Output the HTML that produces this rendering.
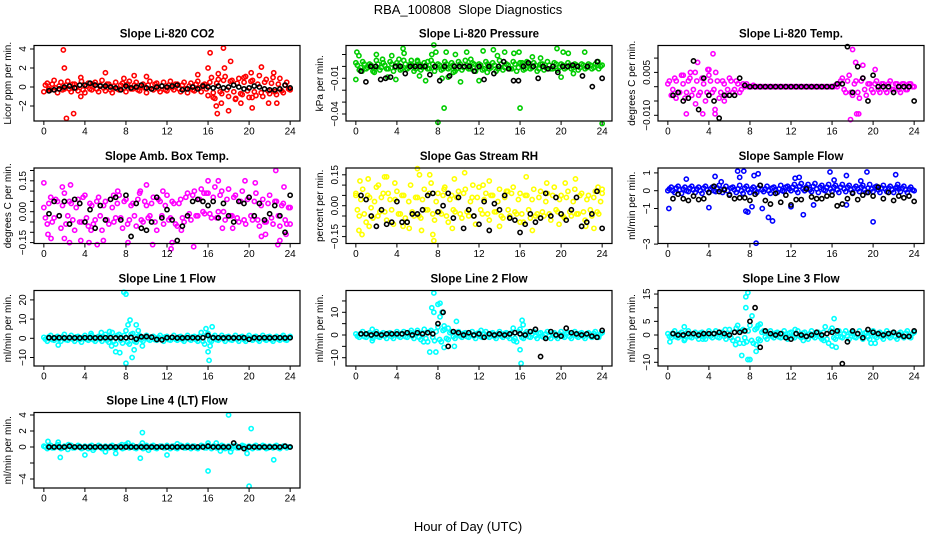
<!DOCTYPE html>
<html><head><meta charset="utf-8"><style>
html,body{margin:0;padding:0;background:#fff;}
svg{display:block;font-family:"Liberation Sans",sans-serif;}
</style></head><body>
<svg id="chart" width="936" height="540" viewBox="0 0 936 540" xmlns="http://www.w3.org/2000/svg">
<rect width="936" height="540" fill="#fff"/>
<text x="468" y="14" text-anchor="middle" font-size="13" xml:space="preserve">RBA_100808  Slope Diagnostics</text>
<text x="468" y="531" text-anchor="middle" font-size="13">Hour of Day (UTC)</text>
<g id="panels"></g>
</svg>
<script>
// ---- data ----
const xTicks = [0,4,8,12,16,20,24];

const co2Band = [-0.5,0.4,-0.3,0.7,-0.6,0.5,-0.2,0.6,-0.5,0.3,-0.4,0.6,-0.6,0.4,-0.3,0.5,-0.5,0.7,-0.4,0.3,-0.6,0.5,-0.3,0.4,-0.5,0.6,-0.2,0.5,-0.4,0.3,-0.6,0.6,-0.3,0.4,-0.5,0.5,-0.4,0.6,-0.3,0.3,-0.5,0.5,-0.6,0.4,-0.4,0.6,-0.5,0.3,-0.9,1.0,-1.2,0.8,-0.7,1.1,-1.0,0.7,-1.3,0.9,-0.8,1.1,-1.1,0.7,-0.9,1.2,-1.0,0.8,-0.7,1.0,-0.8,0.9,-0.6,0.5,-0.3];
const co2BandB = [0.2,-0.2,0.3,-0.1,0.1,-0.3,0.2,-0.2,0.3,-0.1,0.2,-0.3,0.1,-0.2,0.3,-0.2,0.2,-0.1,0.3,-0.3,0.1,-0.2,0.2,-0.1,0.3,-0.2,0.2,-0.3,0.1,-0.1,0.2,-0.2,0.3,-0.2,0.1,-0.3,0.2,-0.1,0.3,-0.2,0.2,-0.2,0.1,-0.3,0.3,-0.1,0.2,-0.2,0.5,-0.6,0.4,-0.5,0.7,-0.3,0.6,-0.5,0.4,-0.7,0.5,-0.4,0.6,-0.5,0.3,-0.6,0.5,-0.4,0.4,-0.5,0.3,-0.4,0.2,-0.2];
const co2OutX = [1.9,2.0,2.2,2.9,3.6,6.0,8.8,10,15,16,16.2,16.8,16.9,17.5,17.3,17.6,18.2,18,19.2,20.2,20.3,20.3,21.2,22.4,22.7,21.9,17,16.5,18.7,19.5,3.6,7.8];
const co2OutY = [3.9,2.0,-3.3,-2.8,-1.0,1.5,1.2,1.1,1.3,2.0,3.6,-2.0,-2.8,4.1,-1.7,2.0,2.7,-2.5,-1.7,1.5,-2.2,-1.1,2.1,1.5,-1.7,-1.7,1.4,-1.1,-1.2,1.0,1.0,0.9];
const co2Black = [-0.4,-0.3,-0.2,0,0.1,-0.1,0.2,0.2,0.4,0.2,0.1,0.1,0,-0.1,-0.3,0.1,-0.1,0,0.2,-0.1,-0.2,0,0.1,0,0.1,0.2,-0.3,-0.2,0,-0.2,0.1,0,-0.1,0.1,-0.1,0,0.2,0,-0.2,-0.1,0.1,0,-0.2,-0.3,-0.3,-0.2,0.2,-0.1];

const presBand = [0.003,-0.003,0.004,-0.002,0.002,-0.004,0.005,-0.003,0.003,-0.002,0.004,-0.004,0.003,-0.003,0.005,-0.002,0.002,-0.004,0.004,-0.003,0.003,-0.002,0.005,-0.004,0.002,-0.003,0.004,-0.002,0.003,-0.004,0.004,-0.003,0.005,-0.002,0.003,-0.004,0.002,-0.003,0.004,-0.002,0.003,-0.004,0.005,-0.003,0.002,-0.002,0.004,-0.004,0.003,-0.003,0.004,-0.002,0.003,-0.004,0.002,-0.003,0.004,-0.002,0.003,-0.003,0.002,-0.002,0.003,-0.002,0.002,-0.003,0.002,-0.002,0.002,-0.002,0.002,-0.002,0.001];
const presBandB = [0.001,-0.001,0.002,-0.001,0.001,-0.002,0.002,-0.001,0.001,-0.002,0.002,-0.001,0.001,-0.002,0.002,-0.001,0.001,-0.002,0.002,-0.001,0.001,-0.002,0.002,-0.001,0.001,-0.002,0.002,-0.001,0.001,-0.002,0.002,-0.001,0.001,-0.002,0.002,-0.001,0.001,-0.002,0.002,-0.001,0.001,-0.002,0.002,-0.001,0.001,-0.002,0.002,-0.001,0.001,-0.002,0.002,-0.001,0.001,-0.002,0.002,-0.001,0.001,-0.002,0.002,-0.001,0.001,-0.001,0.001,-0.001,0.001,-0.001,0.001,-0.001,0.001,-0.001,0.001,0];
const presOutX = [0.1,0.3,0.6,0,1.8,2.6,3.1,3.5,3.9,4.2,4.6,4.7,5.4,6.0,6.2,6.8,7.0,7.6,7.4,7.8,8.0,8.6,8.4,8.8,9.0,9.5,10.2,10.8,11.2,12.0,12.4,12.8,13.4,13.8,14.5,15.4,15.9,16.0,16.2,17.2,18.0,19.6,20.0,20.2,20.7,21.2,22.3,24,23.6,2.0,9.7,11.0];
const presOutY = [0.012,0.009,-0.004,-0.011,-0.005,0.006,-0.009,0.009,-0.011,0.006,0.015,0.011,0.005,0.005,-0.008,-0.012,0.004,0.018,0.010,0.012,-0.047,-0.035,-0.010,0.012,-0.009,-0.005,-0.013,0.012,0.006,-0.012,0.013,-0.005,0.014,0.009,0.012,0.011,0.012,-0.035,0.003,0.008,0.007,0.015,-0.009,0.012,0.011,-0.006,0.012,-0.048,0.004,0.010,0.010,-0.002];
const presBlack = [-0.004,-0.013,0,0,-0.011,-0.010,-0.009,0,0,-0.006,0,0,0,0,-0.007,0,-0.012,0,-0.008,0,0,0,0,-0.004,0,-0.011,0,-0.006,0,0.004,-0.002,-0.012,-0.012,0,0.003,0,-0.010,0,-0.002,0,-0.005,0,0,0.001,0,-0.008,0,-0.017,0.004,-0.010];

const tempBand = [0.001,-0.003,0.003,-0.002,0.004,-0.004,0.002,-0.003,0.005,-0.003,0.003,-0.005,0.004,-0.002,0.005,-0.004,0.002,-0.003,0.003,-0.002,0.002,-0.002,0.001,0.001,0,0.0005,0,0,0,0,0,0,0,0,0,0,0,0,0,0,0,0,0,0,0,0,0,0,0,0.0005,0.001,0.003,-0.002,0.004,-0.003,0.002,-0.004,0.003,-0.003,0.001,-0.002,0.002,-0.002,0.001,-0.002,0.002,-0.001,0.001,-0.002,0.001,-0.001,0.001,0];
const tempBandB = [0.002,-0.001,0.002,-0.002,0.001,-0.002,0.003,-0.001,0.002,-0.002,0.001,-0.002,0.002,-0.001,0.002,-0.002,0.001,-0.001,0.002,-0.001,0.001,-0.001,0,0,0,0,0,0,0,0,0,0,0,0,0,0,0,0,0,0,0,0,0,0,0,0,0,0,0,0,0.002,-0.001,0.002,-0.002,0.001,-0.002,0.002,-0.001,0.001,-0.001,0.001,-0.001,0.001,-0.001,0.001,-0.001,0.001,-0.001,0.001,-0.001,0.001,0];
const tempOutX = [4.4,2.9,3.9,1.8,3.4,4.6,4.6,18,18.3,19,20.2,17.8,18.4,18.6,2.7,5.5,1.5,2.2,0.8,4.0];
const tempOutY = [0.0115,0.0085,0.006,-0.0095,-0.0095,-0.0095,-0.008,0.013,0.0085,0.0075,0.006,-0.0115,-0.0095,-0.0095,-0.006,-0.005,0.004,0.005,-0.004,0.006];
const tempBlack = [-0.003,-0.002,-0.005,-0.004,0.009,-0.008,0.003,-0.003,-0.005,-0.011,-0.003,-0.003,-0.003,0.003,0.0005,0,0,0,0,0,0,0,0,0,0,0,0,0,0,0,0,0,0.001,0.001,0.014,-0.002,0.007,0.003,-0.005,0.004,0,0,0,-0.002,0,0,0,-0.005];

const ambBand = [0.02,-0.06,0.07,-0.03,0.05,-0.08,0.09,-0.02,0.04,-0.09,0.06,-0.05,0.08,-0.07,0.03,-0.04,0.07,-0.09,0.05,-0.06,0.02,-0.03,0.08,-0.08,0.06,-0.04,0.04,-0.07,0.09,-0.05,0.03,-0.02,0.07,-0.09,0.05,-0.06,0.08,-0.03,0.04,-0.07,0.06,-0.05,0.09,-0.04,0.1,-0.02,0.11,-0.01,0.09,-0.03,0.12,0.0,0.1,-0.04,0.11,-0.02,0.08,-0.05,0.1,-0.06,0.07,-0.04,0.09,-0.07,0.06,-0.05,0.08,-0.06,0.05,-0.07,0.04,-0.06,0.02];
const ambBandB = [-0.03,0.04,-0.05,0.06,-0.02,0.03,-0.06,0.05,-0.04,0.02,-0.05,0.07,-0.03,0.04,-0.06,0.05,-0.02,0.03,-0.04,0.06,-0.05,0.04,-0.03,0.05,-0.06,0.03,-0.02,0.06,-0.04,0.05,-0.03,0.04,-0.05,0.06,-0.02,0.03,-0.04,0.05,-0.06,0.04,-0.03,0.07,-0.01,0.08,-0.02,0.06,0.0,0.09,-0.01,0.07,-0.03,0.08,0.0,0.06,-0.02,0.07,-0.03,0.05,-0.04,0.06,-0.02,0.05,-0.04,0.03,-0.05,0.04,-0.03,0.05,-0.02,0.03,-0.04,0.02];
const ambOutX = [0,0.4,0.7,1.8,2.0,2.6,2.5,3.6,4.4,4.6,5.2,5.8,6.8,7.2,8.2,9.4,10.0,10.6,11.6,12.4,12.5,13.4,14.6,15.6,16.0,17.0,17.4,18.4,19.6,20.6,21.2,21.6,22.6,22.8,23.0,23.4,23.6,24];
const ambOutY = [0.14,-0.11,-0.13,0.12,-0.13,0.13,-0.15,-0.14,-0.15,-0.09,-0.16,-0.14,0.08,0.1,-0.15,0.1,0.13,-0.16,0.1,-0.18,-0.15,-0.09,-0.17,0.09,0.15,0.15,-0.08,-0.08,0.15,0.14,-0.12,-0.11,0.2,-0.16,-0.14,0.12,-0.11,-0.06];
const ambBlack = [-0.01,0.05,-0.02,0.05,-0.06,0.06,0.04,-0.05,0.01,-0.08,0.03,-0.04,0.06,0.07,-0.04,0.08,-0.12,0.04,-0.08,-0.09,-0.05,0.07,-0.03,0.01,-0.04,-0.14,-0.07,-0.02,0.05,0.06,0.05,0.03,0.05,-0.03,0.04,-0.02,-0.05,0.05,0.04,0.07,-0.02,0.04,-0.04,-0.01,0.03,-0.02,-0.10,0.08];

const rhBand = [0.05,-0.05,0.08,-0.08,0.04,-0.06,0.09,-0.03,0.06,-0.07,0.03,-0.09,0.07,-0.04,0.05,-0.08,0.1,-0.05,0.04,-0.06,0.08,-0.02,0.11,-0.07,0.06,-0.04,0.09,-0.08,0.05,-0.03,0.07,-0.06,0.08,-0.05,0.04,-0.09,0.09,-0.04,0.06,-0.07,0.05,-0.03,0.08,-0.06,0.07,-0.05,0.09,-0.04,0.06,-0.08,0.05,-0.06,0.08,-0.04,0.07,-0.05,0.06,-0.07,0.09,-0.03,0.05,-0.06,0.07,-0.05,0.08,-0.04,0.06,-0.07,0.05,-0.05,0.07,-0.04,0.06];
const rhBandB = [-0.02,0.03,-0.04,0.05,-0.01,0.02,-0.05,0.04,-0.03,0.06,-0.02,0.03,-0.04,0.05,-0.06,0.02,-0.03,0.04,-0.05,0.03,-0.02,0.06,-0.04,0.02,-0.03,0.05,-0.05,0.03,-0.02,0.04,-0.04,0.06,-0.03,0.02,-0.05,0.04,-0.02,0.03,-0.04,0.05,-0.03,0.02,-0.05,0.04,-0.02,0.06,-0.03,0.03,-0.04,0.05,-0.02,0.03,-0.05,0.04,-0.03,0.02,-0.04,0.05,-0.02,0.03,-0.05,0.04,-0.03,0.02,-0.04,0.05,-0.03,0.03,-0.02,0.04,-0.03,0.02];
const rhOutX = [0,0.3,0.4,0.6,1.2,1.3,2.2,2.8,3.0,3.8,4.6,5.2,6.0,6.2,6.4,7.2,7.5,7.6,8.6,9.4,9.6,10.6,11.4,12.4,13.0,14.0,14.8,16.0,16.6,17.2,18.6,19.8,20.4,21.4,22.4,23.2,23.6,24];
const rhOutY = [0.06,-0.12,0.12,-0.14,0.13,-0.1,0.1,0.14,0.14,0.11,-0.1,-0.11,0.18,0.15,-0.12,0.15,-0.14,-0.17,0.08,-0.11,0.13,0.16,0.1,0.1,0.12,-0.1,0.07,-0.08,0.14,-0.12,0.11,-0.09,0.11,0.13,-0.1,-0.11,0.09,0.08];
const rhBlack = [0.05,0.03,-0.05,-0.1,-0.02,-0.09,-0.08,0.02,-0.08,-0.08,-0.04,-0.04,-0.02,0.05,0.06,-0.03,0,0.06,-0.06,0.04,-0.11,-0.02,-0.05,-0.09,0.02,-0.12,0.01,-0.02,0.05,-0.06,-0.07,-0.13,-0.09,-0.04,-0.08,-0.06,0.06,-0.05,0.04,-0.04,-0.07,-0.02,0.04,-0.1,-0.08,-0.04,0.07,-0.11];

const flowBand = [0.0,0.2,-0.1,0.25,-0.15,0.2,-0.05,0.25,-0.1,0.2,-0.15,0.25,-0.1,0.2,-0.05,0.3,-0.1,0.25,-0.2,0.2,-0.1,0.3,-0.15,0.25,-0.1,0.2,-0.1,0.3,-0.05,0.25,-0.15,0.2,-0.1,0.3,-0.05,0.25,0.0,0.35,-0.1,0.4,0.0,0.35,-0.05,0.4,-0.1,0.3,0.0,0.35,-0.05,0.3,-0.1,0.35,-0.05,0.3,-0.1,0.25,-0.05,0.3,-0.1,0.35,-0.05,0.25,-0.1,0.3,-0.05,0.25,-0.1,0.2,-0.05,0.25,-0.1,0.2,0.0];
const flowBandB = [0.1,0.0,0.15,0.05,0.1,0.0,0.15,0.05,0.1,0.0,0.15,0.05,0.1,0.0,0.15,0.05,0.1,0.0,0.15,0.05,0.1,0.0,0.15,0.05,0.1,0.0,0.15,0.05,0.1,0.0,0.15,0.05,0.1,0.0,0.2,0.1,0.2,0.05,0.25,0.1,0.2,0.05,0.25,0.1,0.2,0.05,0.2,0.1,0.2,0.05,0.2,0.1,0.2,0.05,0.15,0.1,0.2,0.05,0.15,0.1,0.2,0.05,0.15,0.1,0.15,0.05,0.15,0.1,0.15,0.05,0.1,0.05];
const flowOutX = [0.1,1.8,4.0,4.6,5.2,6.8,7.0,7.4,7.6,7.8,8.2,8.4,8.6,8.8,9.2,9.8,10.2,12.0,12.4,12.8,13.2,14.2,15.8,16.2,17.4,17.4,18.8,19.4,20.0,22.2,22.4];
const flowOutY = [-1.0,0.65,-0.95,0.8,0.5,1.1,0.75,1.1,-1.15,-1.2,-0.9,0.85,-2.95,0.95,-1.0,-1.5,-1.7,-0.9,0.7,0.75,-1.35,-0.8,1.05,0.6,0.85,-0.8,0.55,1.05,-1.75,0.9,0.35];
const flowBlack = [-0.45,-0.2,-0.45,-0.55,-0.3,-0.5,-0.45,-0.1,0.25,-0.05,0.05,-0.25,-0.45,-0.4,-0.4,-0.55,-0.2,0.3,-0.55,-0.75,-0.15,-0.65,-0.25,-0.8,-0.5,-0.5,0.1,-0.35,-0.45,-0.45,-0.3,-0.25,-0.85,-0.75,-0.45,-0.15,-0.5,-0.25,-0.1,-0.3,0.2,-0.45,-0.1,-0.55,-0.3,-0.4,-0.3,-0.6];

const line1Band = [0.5,-1.5,1.5,-1,1,-1.5,2,-1,1.5,-1.5,1,-2,1.5,-1,1.5,-1.5,1,-1.5,2,-2,3,-3,2,-2.5,4,-3,2.5,-2,1.5,-1.5,1.5,-1,1,-1,1.5,-1.5,1,-1,1.5,-1,1,-1.5,1.5,-1,1,-1.5,3,-3,2.5,-1.5,1.5,-1,1.5,-1.5,1,-1,1.5,-1.5,1,-1.5,1.5,-1,1,-1.5,1.5,-1,1,-1.5,1,-1,1.5,-1,1];
const line1BandB = [-0.5,0.7,-0.7,0.5,-0.5,0.7,-0.7,0.5,-0.5,0.7,-0.7,0.5,-0.5,0.7,-0.7,0.5,-0.5,0.7,-1,1,-1.5,1.5,-1,1.5,-2,2,-1.5,1,-0.7,0.5,-0.5,0.7,-0.7,0.5,-0.5,0.7,-0.7,0.5,-0.5,0.7,-0.7,0.5,-0.5,0.7,-0.7,1,-1.5,1.5,-1,0.7,-0.7,0.5,-0.5,0.7,-0.7,0.5,-0.5,0.7,-0.7,0.5,-0.5,0.7,-0.7,0.5,-0.5,0.7,-0.7,0.5,-0.5,0.7,-0.7,0.5];
const line1OutX = [1.4,4.6,5.6,6.4,6.6,7.0,7.4,7.8,8.0,8.0,8.2,8.4,8.6,8.8,9.0,9.2,9.6,15.8,16.0,16.1,16.4,16.2];
const line1OutY = [-3.5,2.5,3,3.5,-4,-7,-7.5,24,23,-13,7,9.5,-10,-6,7,4,-4,5,-7,-11.5,6,-4];
const line1Black = [0.3,0.2,0.3,0.2,0.3,0.2,0.2,0.3,0.3,0.2,0.2,0.3,0.3,0.2,0.2,0.3,0.5,-0.4,0.8,0.9,0.6,-0.6,-0.8,0.3,0.5,0.2,0.2,0.3,0.3,0.2,0.3,1.5,0.3,0.3,0.2,0.3,0.2,0.3,0.3,-0.5,0.3,0.2,0.3,0.2,0.3,0.3,0.2,0.3];

const line2Band = [0.5,-1,1.5,-1,1,-1.5,1.5,-1,1,-1.5,1,-1.5,1.5,-1,1.5,-1,1,-1.5,2,-2,2.5,-3,2,-2.5,3.5,-3,2.5,-2,1.5,-1.5,1.5,-1,1,-1,1.5,-1.5,1,-1,1.5,-1,1,-1.5,1.5,-1,1,-1.5,3,-3,2.5,-1.5,1.5,-1,1.5,-1.5,1,-1,1.5,-1.5,1,-1.5,1.5,-1,1,-1.5,1.5,-1,1,-1.5,1,-1,1.5,-1,1];
const line2BandB = [-0.5,0.7,-0.7,0.5,-0.5,0.7,-0.7,0.5,-0.5,0.7,-0.7,0.5,-0.5,0.7,-0.7,0.5,-0.5,0.7,-1,1,-1.5,1.5,-1,1.5,-2,2,-1.5,1,-0.7,0.5,-0.5,0.7,-0.7,0.5,-0.5,0.7,-0.7,0.5,-0.5,0.7,-0.7,0.5,-0.5,0.7,-0.7,1,-1.5,1.5,-1,0.7,-0.7,0.5,-0.5,0.7,-0.7,0.5,-0.5,0.7,-0.7,0.5,-0.5,0.7,-0.7,0.5,-0.5,0.7,-0.7,0.5,-0.5,0.7,-0.7,0.5];
const line2OutX = [1.6,1.6,5.4,6.6,7.2,7.4,7.6,7.8,7.6,8.0,8.2,8.2,8.4,8.6,8.6,9.0,9.6,9.8,12.2,15.4,16.0,16.1,16.2,16.3];
const line2OutY = [-2.5,2.5,2,-3,-7.5,12,18.5,-7.5,10,13.5,14,8,10,-5.5,4,3,-5,6,2,-2.5,-6.5,-12.5,6.5,4.5];
const line2Black = [0.5,0.5,0,0.5,0,0.5,0.5,0.5,0.5,1,0,1,0.5,1,0.5,5,10,-5,1.5,1,0,1,0,0.5,-1,0.5,0,0.5,0,0.5,1,0.5,0,1.5,2.5,-9.5,-1.5,1.5,0,-0.5,3,1,0.5,0,0.5,-0.5,-1,2];

const line3Band = [0.5,-1,1.5,-1,1,-1.5,1.5,-1,1,-1.5,1,-1.5,1.5,-1,1.5,-1,1,-1.5,2,-2,2.5,-3,2,-2.5,3.5,-3,2.5,-2,1.5,-1.5,1.5,-1,1,-1,1.5,-1.5,1,-1,1.5,-1,1,-1.5,1.5,-1,1,-1.5,3,-3,2.5,-1.5,1.5,-1,1.5,-1.5,1,-1,1.5,-1.5,1,-1.5,1.5,-1,1,-1.5,1.5,-1,1,-1.5,1,-1,1.5,-1,1];
const line3BandB = [-0.5,0.7,-0.7,0.5,-0.5,0.7,-0.7,0.5,-0.5,0.7,-0.7,0.5,-0.5,0.7,-0.7,0.5,-0.5,0.7,-1,1,-1.5,1.5,-1,1.5,-2,2,-1.5,1,-0.7,0.5,-0.5,0.7,-0.7,0.5,-0.5,0.7,-0.7,0.5,-0.5,0.7,-0.7,0.5,-0.5,0.7,-0.7,1,-1.5,1.5,-1,0.7,-0.7,0.5,-0.5,0.7,-0.7,0.5,-0.5,0.7,-0.7,0.5,-0.5,0.7,-0.7,0.5,-0.5,0.7,-0.7,0.5,-0.5,0.7,-0.7,0.5];
const line3OutX = [0.2,1.6,1.6,3.4,5.6,6.6,6.8,7.2,7.4,7.6,7.8,7.6,7.8,8.0,8.2,8.6,8.8,9.0,8.6,12.4,13.2,15.2,16.0,16.2,16.4,19.8,20.2];
const line3OutY = [-2.5,3,-2,-1.5,2,-3.5,3.5,-7.5,-3,14,15.5,10,-9,-9,7,-6,3.5,4,-3.5,2,-2,-2,-4,6,-4.5,-3,-3];
const line3Black = [0.5,0,0,0.5,0.5,0,0.5,0.5,0.5,1,0.5,0,1,1,1.5,5,10,-4.5,1.5,0.5,0,0.5,-1,-1.5,0.5,0,-0.5,0,1,0,0.5,1,1.5,-10.5,-2.5,1.5,0.5,-1,2,1,0.5,0,0.5,1,0,-0.5,-0.5,1.5];

const line4Band = [0.1,-0.2,0.2,-0.1,0.3,-0.2,0.1,-0.3,0.2,-0.1,0.2,-0.2,0.1,-0.2,0.2,-0.1,0.2,-0.2,0.1,-0.1,0.2,-0.2,0.1,-0.2,0.2,-0.1,0.2,-0.2,0.1,-0.2,0.2,-0.1,0.2,-0.2,0.1,-0.1,0.2,-0.2,0.1,-0.2,0.2,-0.1,0.2,-0.2,0.1,-0.2,0.2,-0.1,0.2,-0.2,0.1,-0.1,0.2,-0.2,0.1,-0.2,0.2,-0.1,0.2,-0.2,0.1,-0.2,0.2,-0.1,0.2,-0.2,0.1,-0.1,0.2,-0.2,0.1,-0.1,0];
const line4BandB = [0,0.1,-0.1,0,0.1,-0.1,0,0.1,-0.1,0,0.1,-0.1,0,0.1,-0.1,0,0.1,-0.1,0,0.1,-0.1,0,0.1,-0.1,0,0.1,-0.1,0,0.1,-0.1,0,0.1,-0.1,0,0.1,-0.1,0,0.1,-0.1,0,0.1,-0.1,0,0.1,-0.1,0,0.1,-0.1,0,0.1,-0.1,0,0.1,-0.1,0,0.1,-0.1,0,0.1,-0.1,0,0.1,-0.1,0,0.1,-0.1,0,0.1,-0.1,0,0.1,0];
const line4OutX = [0.4,1.4,1.6,2.4,4.0,4.8,6.0,7.0,7.6,8.0,8.2,9.4,9.6,9.6,10.2,12.0,13.0,16.0,16.0,16.8,17.2,18.0,18.2,19.8,20.0,20.2,22.4];
const line4OutY = [0.7,0.6,-1.3,0.3,-1.0,-0.4,-0.6,-0.8,0.3,0.3,0.5,-1.4,1.8,0.5,-0.4,-1.0,0.4,-3.0,0.5,0.5,-0.5,4.0,-0.6,-0.8,-4.9,2.3,-1.6];
const line4Black = [0,0,0,0,0.1,0,0,0,0,0,0,0,0,0,0,0,0,0,0,0,0,0,0,0,0,0,0,0,0,0,0,0.1,0,0,0,0,0.5,0,-0.2,0,0,0,0,0,0,0,0.1,0];

// ---- layout (not data) ----
const colL = [34, 346, 658], colW = 266;
const rowT = [45.5, 168, 290.5, 412.5], rowH = 75.5;

const panels = [
 {name:'co2',title:'Slope Li-820 CO2',ylab:'Licor ppm per min.',c:0,r:0,zero:87,ppu:9.5,ticks:[-2,0,2,4],labs:['-2','0','2','4'],col:'#ff0000',band:co2Band,bandB:co2BandB,ox:co2OutX,oy:co2OutY,blk:co2Black},
 {name:'pressure',title:'Slope Li-820 Pressure',ylab:'kPa per min.',c:1,r:0,zero:66.4,ppu:1190,ticks:[0.01,0,-0.01,-0.02,-0.03,-0.04],labs:['','','-0.01','','','-0.04'],col:'#00cd00',band:presBand,bandB:presBandB,ox:presOutX,oy:presOutY,blk:presBlack},
 {name:'li820-temp',title:'Slope Li-820 Temp.',ylab:'degrees C per min.',c:2,r:0,zero:86.7,ppu:2860,ticks:[0.01,0.005,0,-0.005,-0.01],labs:['','0.005','','','-0.010'],col:'#ff00ff',band:tempBand,bandB:tempBandB,ox:tempOutX,oy:tempOutY,blk:tempBlack},
 {name:'amb-box-temp',title:'Slope Amb. Box Temp.',ylab:'degrees C per min.',c:0,r:1,zero:211.7,ppu:206,ticks:[0.2,0.15,0.1,0.05,0,-0.05,-0.1,-0.15],labs:['','0.15','','','0.00','','','-0.15'],col:'#ff00ff',band:ambBand,bandB:ambBandB,ox:ambOutX,oy:ambOutY,blk:ambBlack},
 {name:'gas-stream-rh',title:'Slope Gas Stream RH',ylab:'percent per min.',c:1,r:1,zero:205.7,ppu:206,ticks:[0.15,0.1,0.05,0,-0.05,-0.1,-0.15],labs:['0.15','','','0.00','','','-0.15'],col:'#ffff00',band:rhBand,bandB:rhBandB,ox:rhOutX,oy:rhOutY,blk:rhBlack},
 {name:'sample-flow',title:'Slope Sample Flow',ylab:'ml/min per min.',c:2,r:1,zero:190.7,ppu:17.8,ticks:[1,0,-1,-2,-3],labs:['1','0','-1','','-3'],col:'#0000ff',band:flowBand,bandB:flowBandB,ox:flowOutX,oy:flowOutY,blk:flowBlack},
 {name:'line1-flow',title:'Slope Line 1 Flow',ylab:'ml/min per min.',c:0,r:2,zero:338.3,ppu:1.92,ticks:[20,10,0,-10],labs:['20','10','0','-10'],col:'#00ffff',band:line1Band,bandB:line1BandB,ox:line1OutX,oy:line1OutY,blk:line1Black},
 {name:'line2-flow',title:'Slope Line 2 Flow',ylab:'ml/min per min.',c:1,r:2,zero:335,ppu:2.27,ticks:[15,10,5,0,-5,-10],labs:['','10','','0','','-10'],col:'#00ffff',band:line2Band,bandB:line2BandB,ox:line2OutX,oy:line2OutY,blk:line2Black},
 {name:'line3-flow',title:'Slope Line 3 Flow',ylab:'ml/min per min.',c:2,r:2,zero:335,ppu:2.73,ticks:[15,10,5,0,-5,-10],labs:['15','','5','0','','-10'],col:'#00ffff',band:line3Band,bandB:line3BandB,ox:line3OutX,oy:line3OutY,blk:line3Black},
 {name:'line4-flow',title:'Slope Line 4 (LT) Flow',ylab:'ml/min per min.',c:0,r:3,zero:447,ppu:8,ticks:[4,2,0,-2,-4],labs:['4','2','0','','-4'],col:'#00ffff',band:line4Band,bandB:line4BandB,ox:line4OutX,oy:line4OutY,blk:line4Black}
];

const NS='http://www.w3.org/2000/svg';
const PR=2.1, PW=1.6;
function mk(tag, attrs, parent){const e=document.createElementNS(NS,tag);for(const k in attrs)e.setAttribute(k,attrs[k]);parent.appendChild(e);return e;}
const root=document.getElementById('panels');

panels.forEach(p=>{
  const L=colL[p.c], T=rowT[p.r], B=T+rowH, R=L+colW;
  const xs=h=>L+colW*(h+0.96)/25.92;
  const ys=v=>p.zero-v*p.ppu;
  const g=mk('g',{},root);
  
  
  const t=mk('text',{x:(L+R)/2,y:T-8,'text-anchor':'middle','font-size':11.5,'font-weight':'bold'},g);
  t.textContent=p.title;
  
  
  const yl=mk('text',{x:0,y:0,'text-anchor':'middle','font-size':10,transform:`translate(${L-23},${(T+B)/2}) rotate(-90)`},g);
  yl.textContent=p.ylab;
  
  
  const pts=mk('g',{fill:'none','stroke-width':PW},g);
  
  
  const n=p.band.length;
  p.band.forEach((v,i)=>{
    const c=mk('circle',{cx:xs(i*24/(n-1)),cy:ys(v),r:PR,stroke:p.col},pts);
    
    
  });
  const nb=p.bandB.length;
  p.bandB.forEach((v,i)=>{
    const c=mk('circle',{cx:xs(0.15+i*23.7/(nb-1)),cy:ys(v),r:PR,stroke:p.col},pts);
    
    
  });
  p.ox.forEach((h,i)=>{
    const c=mk('circle',{cx:xs(h),cy:ys(p.oy[i]),r:PR,stroke:p.col},pts);
    
    
  });
  const m=p.blk.length;
  p.blk.forEach((v,i)=>{
    const c=mk('circle',{cx:xs(0.5+i*23.5/(m-1)),cy:ys(v),r:PR,stroke:'#000'},pts);
    
    
  });
  const bx=mk('rect',{x:L,y:T,width:colW,height:rowH,fill:'none',stroke:'#000','stroke-width':1.2},g);
  
  
  const xa=mk('g',{'font-size':10,'text-anchor':'middle'},g);
  
  
  xTicks.forEach(h=>{
    mk('line',{x1:xs(h),x2:xs(h),y1:B,y2:B+4,stroke:'#000'},xa);
    const tl=mk('text',{x:xs(h),y:B+13.5},xa);tl.textContent=h;
    
    
  });
  const ya=mk('g',{'font-size':10,'text-anchor':'middle'},g);
  
  
  p.ticks.forEach((v,i)=>{
    const y=ys(v);
    mk('line',{x1:L-4,x2:L,y1:y,y2:y,stroke:'#000'},ya);
    if(p.labs[i]){
      const tl=mk('text',{x:0,y:0,transform:`translate(${L-8},${y}) rotate(-90)`},ya);
      tl.textContent=p.labs[i].replace('-','\u2212');
      
      
    }
  });
});
</script>
</body></html>
